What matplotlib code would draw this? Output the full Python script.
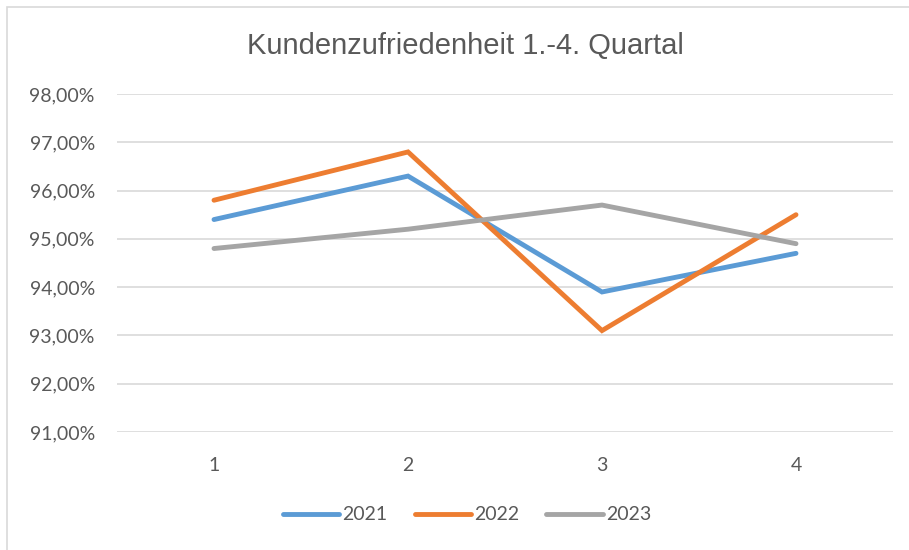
import matplotlib
matplotlib.use('Agg')
from matplotlib import pyplot as plt
from matplotlib.patches import Rectangle
from matplotlib.ticker import FuncFormatter

quarters = ['1', '2', '3', '4']
values_2021 = [95.4, 96.3, 93.9, 94.7]
values_2022 = [95.8, 96.8, 93.1, 95.5]
values_2023 = [94.8, 95.2, 95.7, 94.9]
series = [('2021', values_2021, '#5B9BD5'),
          ('2022', values_2022, '#ED7D31'),
          ('2023', values_2023, '#A5A5A5')]
y_ticks = [91, 92, 93, 94, 95, 96, 97, 98]

text_color = '#595959'
grid_color = '#D9D9D9'

fig = plt.figure(figsize=(9.09, 5.5), dpi=100)
# chart frame
fig.patches.append(Rectangle((7 / 909, -0.1), 1.2, 1 - 7 / 550 + 0.1,
                             transform=fig.transFigure, fill=False,
                             edgecolor=grid_color, linewidth=1.2))

ax = fig.add_axes([117 / 909, 1 - 432 / 550, 776 / 909, 338 / 550])
x = list(range(len(quarters)))
for name, vals, color in series:
    ax.plot(x, vals, color=color, linewidth=3.5, solid_capstyle='round',
            solid_joinstyle='miter', label=name)

ax.set_xlim(-0.5, len(quarters) - 0.5)
ax.set_ylim(91, 98)
ax.set_yticks(y_ticks)
ax.yaxis.set_major_formatter(FuncFormatter(lambda v, p: '{:.2f}%'.format(v).replace('.', ',')))
ax.set_xticks(x)
ax.set_xticklabels(quarters)
ax.grid(axis='y', color=grid_color, linewidth=1.2)
ax.set_axisbelow(True)
for s in ax.spines.values():
    s.set_visible(False)
ax.tick_params(length=0, colors=text_color, labelsize=14, pad=16)
ax.tick_params(axis='x', pad=18)
for lab in ax.get_xticklabels() + ax.get_yticklabels():
    lab.set_family(['Lato', 'DejaVu Sans'])

fig.text(465 / 909, 1 - 46 / 550, 'Kundenzufriedenheit 1.-4. Quartal',
         ha='center', va='center', fontsize=21, color=text_color,
         family=['Liberation Sans', 'DejaVu Sans'])

leg = fig.legend(loc='center', bbox_to_anchor=(467 / 909, 1 - 515 / 550), ncol=3,
                 frameon=False, handlelength=2.9, handletextpad=0.15,
                 columnspacing=1.4, prop={'family': ['Lato', 'DejaVu Sans'], 'size': 14})
for t in leg.get_texts():
    t.set_color(text_color)

fig.savefig('out.png', dpi=100)
